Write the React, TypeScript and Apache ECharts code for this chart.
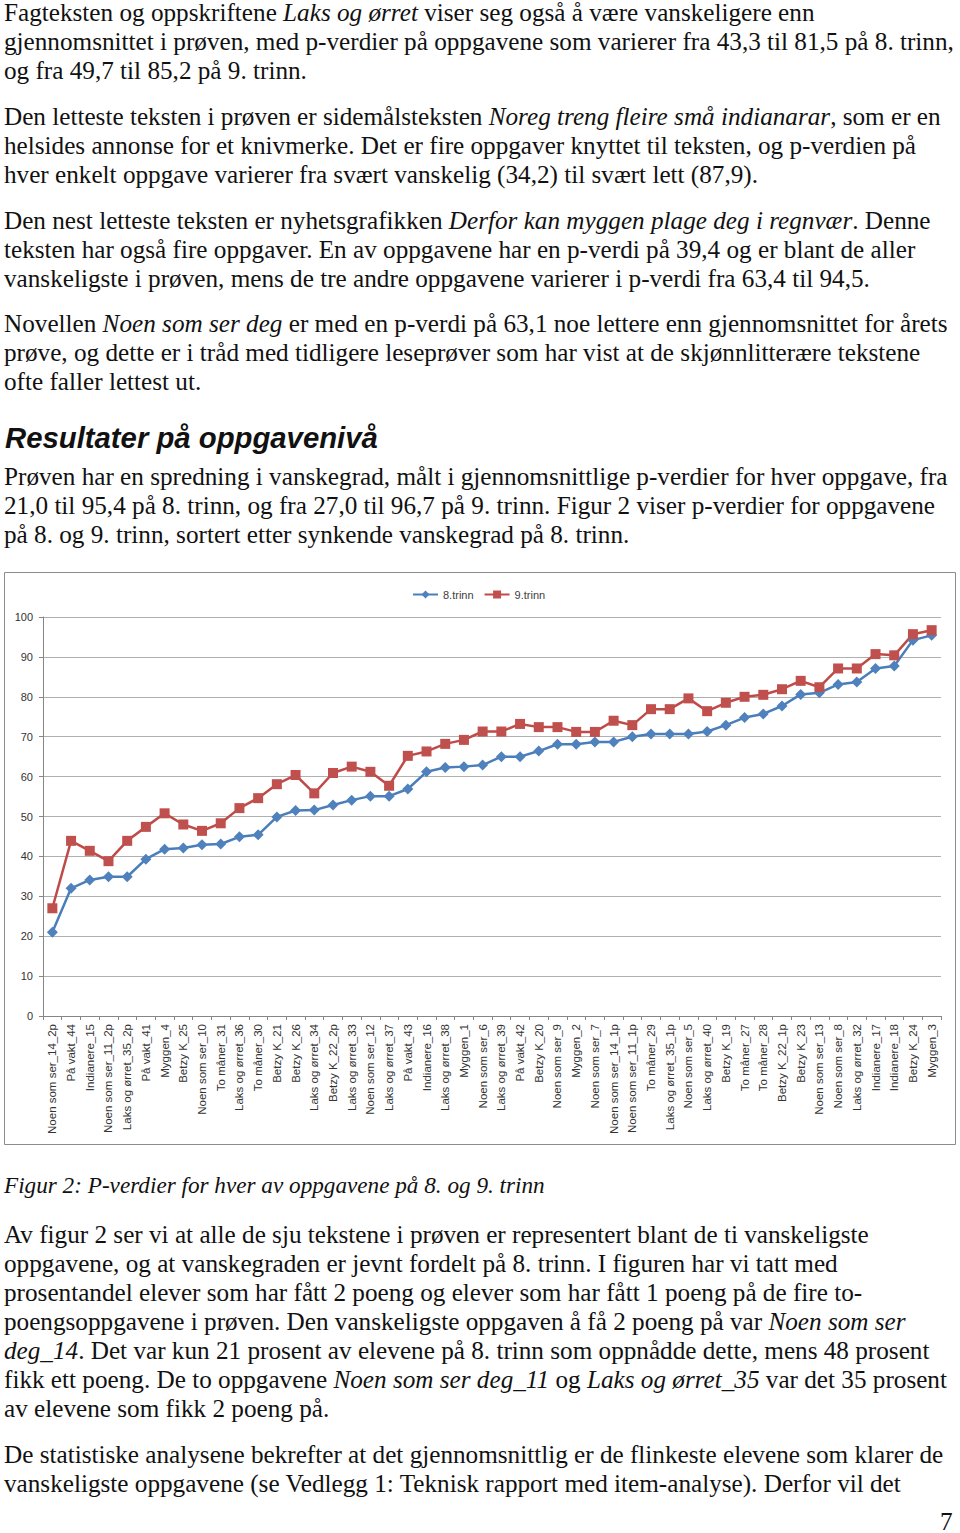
import React, { useEffect, useRef } from "react";
import * as echarts from "echarts";

const categories = [
  "Noen som ser_14_2p", "På vakt_44", "Indianere_15", "Noen som ser_11_2p", "Laks og ørret_35_2p",
  "På vakt_41", "Myggen_4", "Betzy K_25", "Noen som ser_10", "To måner_31", "Laks og ørret_36",
  "To måner_30", "Betzy K_21", "Betzy K_26", "Laks og ørret_34", "Betzy K_22_2p", "Laks og ørret_33",
  "Noen som ser_12", "Laks og ørret_37", "På vakt_43", "Indianere_16", "Laks og ørret_38", "Myggen_1",
  "Noen som ser_6", "Laks og ørret_39", "På vakt_42", "Betzy K_20", "Noen som ser_9", "Myggen_2",
  "Noen som ser_7", "Noen som ser_14_1p", "Noen som ser_11_1p", "To måner_29", "Laks og ørret_35_1p",
  "Noen som ser_5", "Laks og ørret_40", "Betzy K_19", "To måner_27", "To måner_28", "Betzy K_22_1p",
  "Betzy K_23", "Noen som ser_13", "Noen som ser_8", "Laks og ørret_32", "Indianere_17",
  "Indianere_18", "Betzy K_24", "Myggen_3",
];

const trinn8 = [
  21.0, 32.0, 34.1, 34.9, 34.9, 39.3, 41.8, 42.1, 42.9, 43.1, 44.9, 45.4, 49.9, 51.5, 51.6, 52.9,
  54.1, 55.1, 55.1, 56.9, 61.2, 62.3, 62.5, 62.9, 65.0, 65.0, 66.4, 68.1, 68.1, 68.7, 68.7, 70.0,
  70.7, 70.7, 70.7, 71.3, 72.9, 74.8, 75.7, 77.7, 80.6, 81.0, 83.1, 83.7, 87.1, 87.7, 94.2, 95.4,
];

const trinn9 = [
  27.0, 43.9, 41.4, 38.8, 43.9, 47.4, 50.8, 48.0, 46.4, 48.3, 52.1, 54.6, 58.1, 60.4, 55.8, 60.9,
  62.5, 61.2, 57.7, 65.2, 66.3, 68.2, 69.2, 71.3, 71.3, 73.2, 72.4, 72.4, 71.2, 71.2, 74.0, 72.9,
  76.9, 76.9, 79.6, 76.4, 78.5, 80.0, 80.5, 81.9, 84.0, 82.4, 87.1, 87.1, 90.7, 90.4, 95.7, 96.7,
];

const seriesNames = ["8.trinn", "9.trinn"];

const para1 = [
  "Fagteksten og oppskriftene {i|Laks og ørret} viser seg også å være vanskeligere enn",
  "gjennomsnittet i prøven, med p-verdier på oppgavene som varierer fra 43,3 til 81,5 på 8. trinn,",
  "og fra 49,7 til 85,2 på 9. trinn.",
];
const para2 = [
  "Den letteste teksten i prøven er sidemålsteksten {i|Noreg treng fleire små indianarar}, som er en",
  "helsides annonse for et knivmerke. Det er fire oppgaver knyttet til teksten, og p-verdien på",
  "hver enkelt oppgave varierer fra svært vanskelig (34,2) til svært lett (87,9).",
];
const para3 = [
  "Den nest letteste teksten er nyhetsgrafikken {i|Derfor kan myggen plage deg i regnvær}. Denne",
  "teksten har også fire oppgaver. En av oppgavene har en p-verdi på 39,4 og er blant de aller",
  "vanskeligste i prøven, mens de tre andre oppgavene varierer i p-verdi fra 63,4 til 94,5.",
];
const para4 = [
  "Novellen {i|Noen som ser deg} er med en p-verdi på 63,1 noe lettere enn gjennomsnittet for årets",
  "prøve, og dette er i tråd med tidligere leseprøver som har vist at de skjønnlitterære tekstene",
  "ofte faller lettest ut.",
];
const heading = "Resultater på oppgavenivå";
const para5 = [
  "Prøven har en spredning i vanskegrad, målt i gjennomsnittlige p-verdier for hver oppgave, fra",
  "21,0 til 95,4 på 8. trinn, og fra 27,0 til 96,7 på 9. trinn. Figur 2 viser p-verdier for oppgavene",
  "på 8. og 9. trinn, sortert etter synkende vanskegrad på 8. trinn.",
];
const caption = "Figur 2: P-verdier for hver av oppgavene på 8. og 9. trinn";
const para6 = [
  "Av figur 2 ser vi at alle de sju tekstene i prøven er representert blant de ti vanskeligste",
  "oppgavene, og at vanskegraden er jevnt fordelt på 8. trinn. I figuren har vi tatt med",
  "prosentandel elever som har fått 2 poeng og elever som har fått 1 poeng på de fire to-",
  "poengsoppgavene i prøven. Den vanskeligste oppgaven å få 2 poeng på var {i|Noen som ser}",
  "{i|deg_14}. Det var kun 21 prosent av elevene på 8. trinn som oppnådde dette, mens 48 prosent",
  "fikk ett poeng. De to oppgavene {i|Noen som ser deg_11} og {i|Laks og ørret_35} var det 35 prosent",
  "av elevene som fikk 2 poeng på.",
];
const para7 = [
  "De statistiske analysene bekrefter at det gjennomsnittlig er de flinkeste elevene som klarer de",
  "vanskeligste oppgavene (se Vedlegg 1: Teknisk rapport med item-analyse). Derfor vil det",
];
const pageNumber = "7";

const SERIF = "'Liberation Serif', 'Times New Roman', serif";
const SANS = "'Liberation Sans', Arial, sans-serif";
const TXT = "#111";
const FS = 25.2;
const LH = 29;

function paraEls(lines: string[], y0: number) {
  return lines.map((t, i) => ({
    type: "text",
    x: 4,
    y: y0 + i * LH,
    silent: true,
    style: {
      text: t,
      fontFamily: SERIF,
      fontSize: FS,
      fill: TXT,
      verticalAlign: "middle",
      rich: {
        i: { fontStyle: "italic", fontFamily: SERIF, fontSize: FS, fill: TXT },
      },
    },
  }));
}

export default function App() {
  const ref = useRef<HTMLDivElement>(null);
  useEffect(() => {
    document.body.style.margin = "0";
    const chart = echarts.init(ref.current!, null, { renderer: "svg" });
    const graphic: any[] = [
      ...paraEls(para1, 12),
      ...paraEls(para2, 116),
      ...paraEls(para3, 220),
      ...paraEls(para4, 323),
      {
        type: "text",
        x: 5,
        y: 437,
        silent: true,
        style: {
          text: heading,
          fontFamily: SANS,
          fontSize: 29.3,
          fontWeight: "bold",
          fontStyle: "italic",
          fill: TXT,
          verticalAlign: "middle",
        },
      },
      ...paraEls(para5, 476),
      {
        type: "rect",
        silent: true,
        z: -1,
        shape: { x: 4.5, y: 572.5, width: 951, height: 572 },
        style: { fill: "none", stroke: "#8c8c8c", lineWidth: 1 },
      },
      {
        type: "text",
        x: 4,
        y: 1185,
        silent: true,
        style: {
          text: caption,
          fontFamily: SERIF,
          fontSize: 23.2,
          fontStyle: "italic",
          fill: TXT,
          verticalAlign: "middle",
        },
      },
      ...paraEls(para6, 1234),
      ...paraEls(para7, 1454),
      {
        type: "text",
        x: 940,
        y: 1521,
        silent: true,
        style: {
          text: pageNumber,
          fontFamily: SERIF,
          fontSize: FS,
          fill: TXT,
          verticalAlign: "middle",
        },
      },
    ];

    chart.setOption({
      animation: false,
      backgroundColor: "#fff",
      graphic,
      legend: {
        top: 584,
        left: 407,
        itemWidth: 25,
        itemHeight: 10,
        itemGap: 10,
        textStyle: { fontFamily: SANS, fontSize: 11, color: "#404040" },
        data: seriesNames,
      },
      grid: { left: 43, right: 19, top: 617, bottom: 517, containLabel: false },
      xAxis: {
        type: "category",
        data: categories,
        boundaryGap: true,
        axisLine: { lineStyle: { color: "#868686" } },
        axisTick: { show: true, length: 4, lineStyle: { color: "#868686" } },
        axisLabel: {
          interval: 0,
          rotate: 90,
          margin: 8,
          fontFamily: SANS,
          fontSize: 11.5,
          color: "#333",
        },
      },
      yAxis: {
        type: "value",
        min: 0,
        max: 100,
        interval: 10,
        axisLine: { show: true, lineStyle: { color: "#868686" } },
        axisTick: { show: true, length: 4, lineStyle: { color: "#868686" } },
        splitLine: { lineStyle: { color: "#b0b0b0" } },
        axisLabel: { fontFamily: SANS, fontSize: 11, color: "#333", margin: 10 },
      },
      series: [
        {
          name: seriesNames[0],
          type: "line",
          data: trinn8,
          symbol: "diamond",
          symbolSize: 11,
          lineStyle: { color: "#4a7ebb", width: 2.5 },
          itemStyle: { color: "#4f81bd" },
        },
        {
          name: seriesNames[1],
          type: "line",
          data: trinn9,
          symbol: "rect",
          symbolSize: 10,
          lineStyle: { color: "#be4b48", width: 2.5 },
          itemStyle: { color: "#c0504d" },
        },
      ],
    });
    return () => chart.dispose();
  }, []);
  return <div ref={ref} style={{ width: 960, height: 1533 }} />;
}
